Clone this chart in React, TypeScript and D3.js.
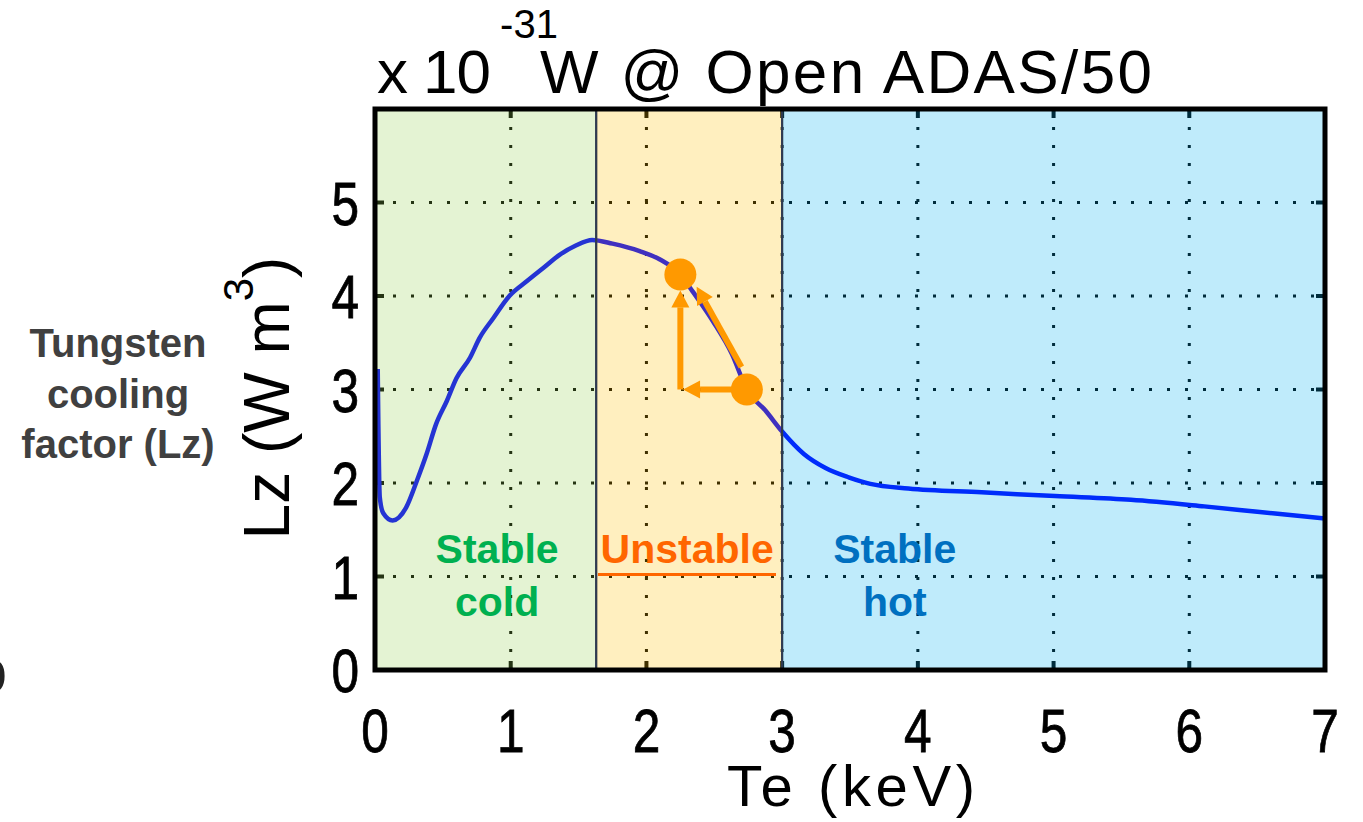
import * as d3 from 'd3';

// Lz(Te) for tungsten (units of 1e-31 W m^3)
const teKeV = [
  0.02, 0.025, 0.035, 0.06, 0.13, 0.23, 0.31, 0.38, 0.45, 0.53, 0.6, 0.7, 0.77,
  0.87, 0.99, 1.12, 1.24, 1.36, 1.48, 1.6, 1.75, 1.95, 2.1, 2.25, 2.34, 2.49,
  2.63, 2.74, 2.88, 3.0, 3.16, 3.32, 3.49, 3.65, 3.93, 4.47, 5.01, 5.57, 6.11,
  6.52, 7.0,
];
const lzValues = [
  3.22, 2.6, 1.85, 1.68, 1.6, 1.74, 2.03, 2.31, 2.63, 2.88, 3.12, 3.34, 3.55,
  3.76, 4.0, 4.16, 4.3, 4.44, 4.54, 4.6, 4.56, 4.48, 4.39, 4.23, 4.05, 3.73,
  3.38, 3.0, 2.77, 2.55, 2.31, 2.16, 2.06, 1.99, 1.94, 1.9, 1.86, 1.82, 1.75,
  1.69, 1.62,
];

const xTicks = [0, 1, 2, 3, 4, 5, 6, 7];
const yTicks = [0, 1, 2, 3, 4, 5];

// stable cold | unstable | stable hot
const regionEdges = [0, 1.63, 3.0, 7];
const regionLabels = [['Stable', 'cold'], ['Unstable'], ['Stable', 'hot']];
const regionLabelTe = [0.9, 2.3, 3.83];

// the two operating points and the arrows between them (Te, Lz)
const cyclePoints = [
  [2.25, 4.23],
  [2.74, 3.0],
];
const cycleArrows = [
  [2.25, 3.0, 2.25, 4.06],
  [2.63, 3.0, 2.27, 3.0],
  [2.7, 3.24, 2.37, 4.1],
];

const W = 1363;
const H = 822;
const FONT = '"Liberation Sans", Arial, Helvetica, sans-serif';
const regionFills = ['#92D050', '#FFC000', '#00B0F0'];
const regionText = ['#00B050', '#FF6600', '#0070C0'];
const ORANGE = '#FF9900';

const x = d3.scaleLinear().domain([0, 7]).range([375, 1325]);
const y = d3.scaleLinear().domain([0, 6]).range([670, 109]);

function Arrow({ a }: { a: number[] }) {
  const x1 = x(a[0]), y1 = y(a[1]), x2 = x(a[2]), y2 = y(a[3]);
  const len = Math.hypot(x2 - x1, y2 - y1);
  const ux = (x2 - x1) / len, uy = (y2 - y1) / len;
  const hl = 17, hw = 9;
  const bx = x2 - ux * hl, by = y2 - uy * hl;
  const pts = [
    [x2, y2],
    [bx - uy * hw, by + ux * hw],
    [bx + uy * hw, by - ux * hw],
  ];
  return (
    <g>
      <line x1={x1} y1={y1} x2={bx} y2={by} stroke={ORANGE} strokeWidth={6} />
      <polygon points={pts.map((p) => p.join(',')).join(' ')} fill={ORANGE} />
    </g>
  );
}

export default function App() {
  const line = d3
    .line<number>()
    .x((_, i) => x(teKeV[i]))
    .y((d) => y(d))
    .curve(d3.curveMonotoneX);

  const [x0, x1] = x.range();
  const [y0, y1] = y.range();

  return (
    <div style={{ position: 'absolute', left: 0, top: 0 }}>
      <svg width={W} height={H} style={{ display: 'block', background: '#fff' }} fontFamily={FONT}>
        {/* dotted grid */}
        <g stroke="#000" strokeWidth={3} strokeDasharray="3 15">
          {xTicks.slice(1, -1).map((t) => (
            <line key={'gx' + t} x1={x(t)} x2={x(t)} y1={y0} y2={y1} />
          ))}
          {yTicks.slice(1).map((t) => (
            <line key={'gy' + t} x1={x0} x2={x1} y1={y(t)} y2={y(t)} />
          ))}
        </g>

        {/* inward ticks on all sides */}
        <g stroke="#000" strokeWidth={4}>
          {xTicks.map((t) => (
            <g key={'tx' + t}>
              <line x1={x(t)} x2={x(t)} y1={y0} y2={y0 - 9} />
              <line x1={x(t)} x2={x(t)} y1={y1} y2={y1 + 9} />
            </g>
          ))}
          {yTicks.map((t) => (
            <g key={'ty' + t}>
              <line x1={x0} x2={x0 + 9} y1={y(t)} y2={y(t)} />
              <line x1={x1} x2={x1 - 9} y1={y(t)} y2={y(t)} />
            </g>
          ))}
        </g>

        <path d={line(lzValues) ?? ''} fill="none" stroke="#0000FF" strokeWidth={4.5} strokeLinejoin="round" />

        {/* translucent regime bands */}
        {regionFills.map((c, i) => (
          <rect
            key={'r' + i}
            x={x(regionEdges[i])}
            y={y1}
            width={x(regionEdges[i + 1]) - x(regionEdges[i])}
            height={y0 - y1}
            fill={c}
            fillOpacity={0.25}
            stroke="#2f3a50"
            strokeWidth={2}
          />
        ))}

        {/* axes box */}
        <rect x={x0} y={y1} width={x1 - x0} height={y0 - y1} fill="none" stroke="#000" strokeWidth={5} />

        {/* tick labels, condensed like the matlab font */}
        <g fontSize={62} fill="#000" stroke="#000" strokeWidth={0.8}>
          {xTicks.map((t) => (
            <text key={'lx' + t} transform={`translate(${x(t)},752) scale(0.8,1)`} textAnchor="middle">
              {t}
            </text>
          ))}
          {yTicks.map((t) => (
            <text key={'ly' + t} transform={`translate(359,${y(t) + 22}) scale(0.8,1)`} textAnchor="end">
              {t}
            </text>
          ))}
        </g>

        {/* title with axis exponent */}
        <text x={377} y={93} fontSize={62} textLength={114} lengthAdjust="spacing">x 10</text>
        <text x={500} y={38} fontSize={40} textLength={58} lengthAdjust="spacing">-31</text>
        <text x={540} y={93} fontSize={62} textLength={612} lengthAdjust="spacing">
          W @ Open ADAS/50
        </text>
        <text x={851} y={806} fontSize={58} textAnchor="middle" textLength={248} lengthAdjust="spacing">
          Te (keV)
        </text>
        <text transform="translate(289,398) rotate(-90)" fontSize={64} textAnchor="middle">
          Lz (W m
          <tspan dy={-36} fontSize={42}>3</tspan>
          <tspan dy={36}>)</tspan>
        </text>

        {/* side annotation */}
        <g fontSize={40} fontWeight="bold" fill="#404040" textAnchor="middle">
          <text x={118} y={357}>Tungsten</text>
          <text x={118} y={408}>cooling</text>
          <text x={118} y={458}>factor (Lz)</text>
        </g>
        <text x={7} y={692} fontSize={62} fontWeight="bold" fill="#222" textAnchor="end">b</text>

        {/* regime labels */}
        <g fontSize={41} fontWeight="bold" textAnchor="middle">
          {regionLabels.map((lines, i) =>
            lines.map((s, j) => (
              <text key={'rl' + i + j} x={x(regionLabelTe[i])} y={563 + j * 53} fill={regionText[i]}>
                {s}
              </text>
            ))
          )}
        </g>
        <line x1={598} x2={776} y1={574.5} y2={574.5} stroke={regionText[1]} strokeWidth={3} />

        {/* thermal instability cycle */}
        {cycleArrows.map((a, i) => (
          <Arrow key={'a' + i} a={a} />
        ))}
        {cyclePoints.map((p, i) => (
          <circle key={'p' + i} cx={x(p[0])} cy={y(p[1])} r={16} fill={ORANGE} />
        ))}
      </svg>
    </div>
  );
}
